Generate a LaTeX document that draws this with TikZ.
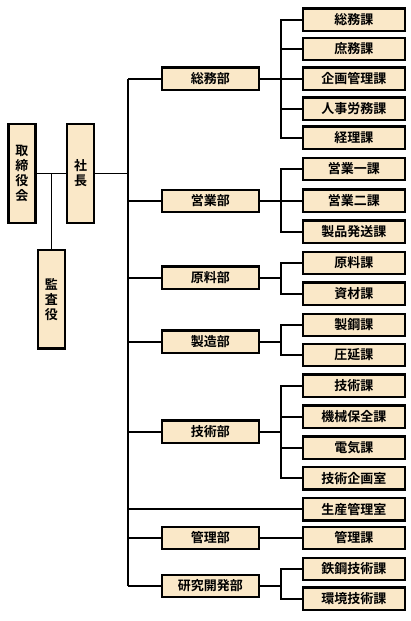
\documentclass[tikz,border=0pt]{standalone}
\usepackage{fontspec}
\newfontfamily\jpfont{Noto Sans CJK JP}[BoldFont={Noto Sans CJK JP Bold}]
\definecolor{boxfill}{RGB}{250,232,200}
\tikzset{
  base/.style={draw=black, line width=2.4pt, fill=boxfill, inner sep=0pt,
    font=\jpfont\bfseries\fontsize{13}{15}\selectfont},
  vbox/.style={base, minimum width=27pt, minimum height=98.9pt, align=center},
  dept/.style={base, minimum width=96.9pt, minimum height=22.1pt},
  sect/.style={base, minimum width=101.9pt, minimum height=22.1pt},
  conn/.style={line width=1.8pt, draw=black},
}
\begin{document}
\begin{tikzpicture}[x=1pt,y=-1pt]
\useasboundingbox (0,0) rectangle (411,621);
% left group
\node[vbox] (board) at (22,173.4) {取\\締\\役\\会};
\node[vbox] (pres) at (80.5,173.4) {社\\長};
\node[vbox] (audit) at (51.4,299.2) {監\\査\\役};
% departments
\node[dept] (d1) at (210.3,78.7) {総務部};
\node[dept] (d2) at (210.3,201) {営業部};
\node[dept] (d3) at (210.3,277.7) {原料部};
\node[dept] (d4) at (210.3,341.7) {製造部};
\node[dept] (d5) at (210.3,431.7) {技術部};
\node[dept] (d6) at (210.3,538) {管理部};
\node[dept] (d7) at (210.3,586) {研究開発部};
% sections
\node[sect] (s11) at (353.8,19.7) {総務課};
\node[sect] (s12) at (353.8,49) {庶務課};
\node[sect] (s13) at (353.8,78.7) {企画管理課};
\node[sect] (s14) at (353.8,108.7) {人事労務課};
\node[sect] (s15) at (353.8,137.7) {経理課};
\node[sect] (s21) at (353.8,169) {営業一課};
\node[sect] (s22) at (353.8,200.7) {営業二課};
\node[sect] (s23) at (353.8,231.7) {製品発送課};
\node[sect] (s31) at (353.8,263) {原料課};
\node[sect] (s32) at (353.8,293.7) {資材課};
\node[sect] (s41) at (353.8,325) {製鋼課};
\node[sect] (s42) at (353.8,355) {圧延課};
\node[sect] (s51) at (353.8,385.7) {技術課};
\node[sect] (s52) at (353.8,416.7) {機械保全課};
\node[sect] (s53) at (353.8,447.7) {電気課};
\node[sect] (s54) at (353.8,478.3) {技術企画室};
\node[sect] (s60) at (353.8,509.3) {生産管理室};
\node[sect] (s61) at (353.8,538) {管理課};
\node[sect] (s71) at (353.8,569) {鉄鋼技術課};
\node[sect] (s72) at (353.8,598.7) {環境技術課};
% coordinates
\coordinate (ttop) at (128,78.7);
\coordinate (tbot) at (128,586);
\coordinate (jn) at (51.4,173.4);
% left connectors
\draw[conn] (board.east) -- (pres.west);
\draw[conn] (jn) -- (audit.north);
\draw[conn] (pres.east) -- (pres.east -| ttop);
% trunk
\draw[conn] (ttop) -- (tbot);
\foreach \d in {d1,d2,d3,d4,d5,d6,d7}{
  \draw[conn] (\d.west -| ttop) -- (\d.west);
}
\draw[conn] (s60.west -| ttop) -- (s60.west);
% branches
\foreach \d/\list in {d1/{s11,s12,s13,s14,s15},d2/{s21,s22,s23},d3/{s31,s32},d4/{s41,s42},d5/{s51,s52,s53,s54},d7/{s71,s72}}{
  \draw[conn] (\d.east) -- ++(21,0) coordinate (br);
  \foreach \s in \list {
    \draw[conn] (br) |- (\s.west);
  }
}
\draw[conn] (d6.east) -- (s61.west);
\end{tikzpicture}
\end{document}
